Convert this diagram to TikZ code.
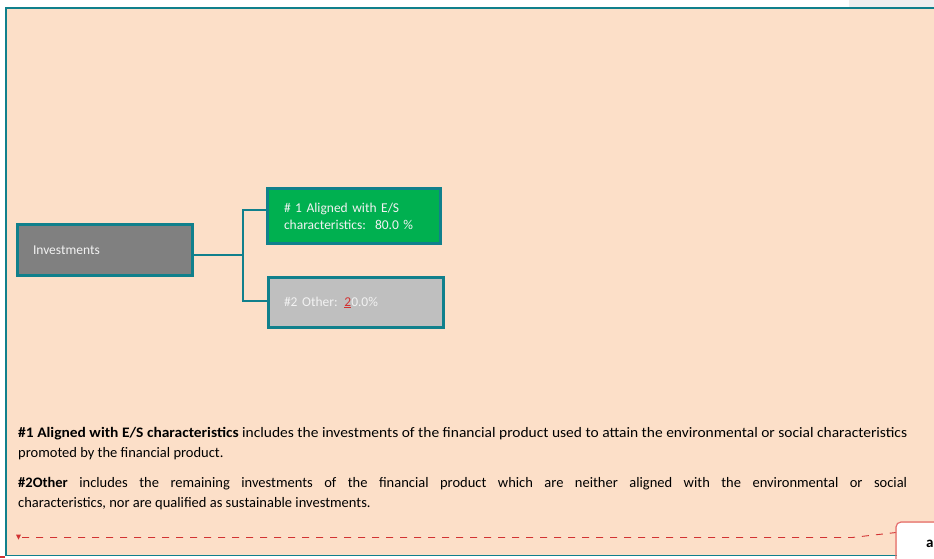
\documentclass[tikz,border=0pt]{standalone}
\usepackage{fontspec}
\setmainfont{Carlito}
\usepackage{graphicx}
\usetikzlibrary{calc}
\definecolor{peach}{RGB}{252,223,200}
\definecolor{teal}{RGB}{16,128,140}
\definecolor{boxgreen}{RGB}{0,176,80}
\definecolor{boxgray}{RGB}{128,128,128}
\definecolor{boxlight}{RGB}{191,191,191}
\definecolor{trackred}{RGB}{210,50,50}
\definecolor{pinkred}{RGB}{228,110,110}
\definecolor{topgray}{RGB}{239,239,239}
\tikzset{
  catbox/.style={draw=teal, line width=3.3pt, rectangle, text=white!95!black,
    font=\fontsize{13.5}{17}\selectfont, align=left},
  conn/.style={draw=teal, line width=1.2pt},
  frame/.style={draw=teal, line width=1.8pt},
  para/.style={anchor=base west, text width=889pt, inner sep=0pt, align=justify,
    font=\fontsize{14.5}{20}\selectfont, text=black},
}
\begin{document}
\begin{tikzpicture}[x=1pt,y=1pt]
\useasboundingbox (0,0) rectangle (934,-558);
\clip (0,0) rectangle (934,-558);
% backgrounds
\fill[white] (0,0) rectangle (934,-558);
\fill[topgray] (849,0) rectangle (934,-8);
\fill[peach] (6,-8) rectangle (934,-556);
% frame
\draw[frame] (6,-556) -- (6,-8) -- (934,-8);
\draw[frame] (6,-555.5) -- (900,-555.5);
\draw[trackred, line width=1.2pt] (0,-557) -- (5,-557);
% boxes
\node[catbox, fill=boxgray, minimum width=175pt, minimum height=51pt,
  text width=144pt, inner xsep=15.5pt] (inv) at (105,-250) {Investments};
\node[catbox, fill=boxgreen, minimum width=172.7pt, minimum height=54.7pt,
  text width=140pt, inner xsep=16.3pt] (es) at (354,-216) {\# 1 Aligned with E/S\\characteristics:\ \ 80.0 \%};
\node[catbox, fill=boxlight, minimum width=174.7pt, minimum height=49.7pt,
  text width=144pt, inner xsep=15.35pt] (oth) at (356,-302.5) {\#2 Other: \textcolor{trackred}{\underline{2}}0.0\%};
% connectors
\coordinate (j) at (243,-255);
\draw[conn] ($(inv.east)+(0,-5)$) -- (j);
\draw[conn] (j) |- ($(es.west)+(0,6)$);
\draw[conn] (j) |- ($(oth.west)+(0,1.5)$);
% explanatory text
\node[para] (p1) at (18,-437) {\resizebox{889pt}{\height}{\textbf{\#1 Aligned with E/S characteristics} includes the investments of the financial product used to attain the environmental or social characteristics}\\promoted by the financial product.};
\node[para] (p2) at (18,-487) {\textbf{\#2Other} includes the remaining investments of the financial product which are neither aligned with the environmental or social\linebreak characteristics, nor are qualified as sustainable investments.};
% comment marker and dashed line
\fill[trackred] (16,-534.5) -- (21,-534.5) -- (18.5,-539.5) -- cycle;
\draw[trackred, line width=0.9pt, dash pattern=on 7pt off 7pt] (22,-537.5) -- (852,-537.5) -- (896,-532.5);
% comment box
\fill[white] (896.5,-522.5) rectangle (934,-558);
\draw[pinkred, line width=1.2pt, rounded corners=5pt] (896,-570) -- (896,-522) -- (945,-522);
\node[anchor=base west, inner sep=0pt, font=\fontsize{15}{18}\selectfont\bfseries] (cb) at (926,-547) {a};
\end{tikzpicture}
\end{document}
